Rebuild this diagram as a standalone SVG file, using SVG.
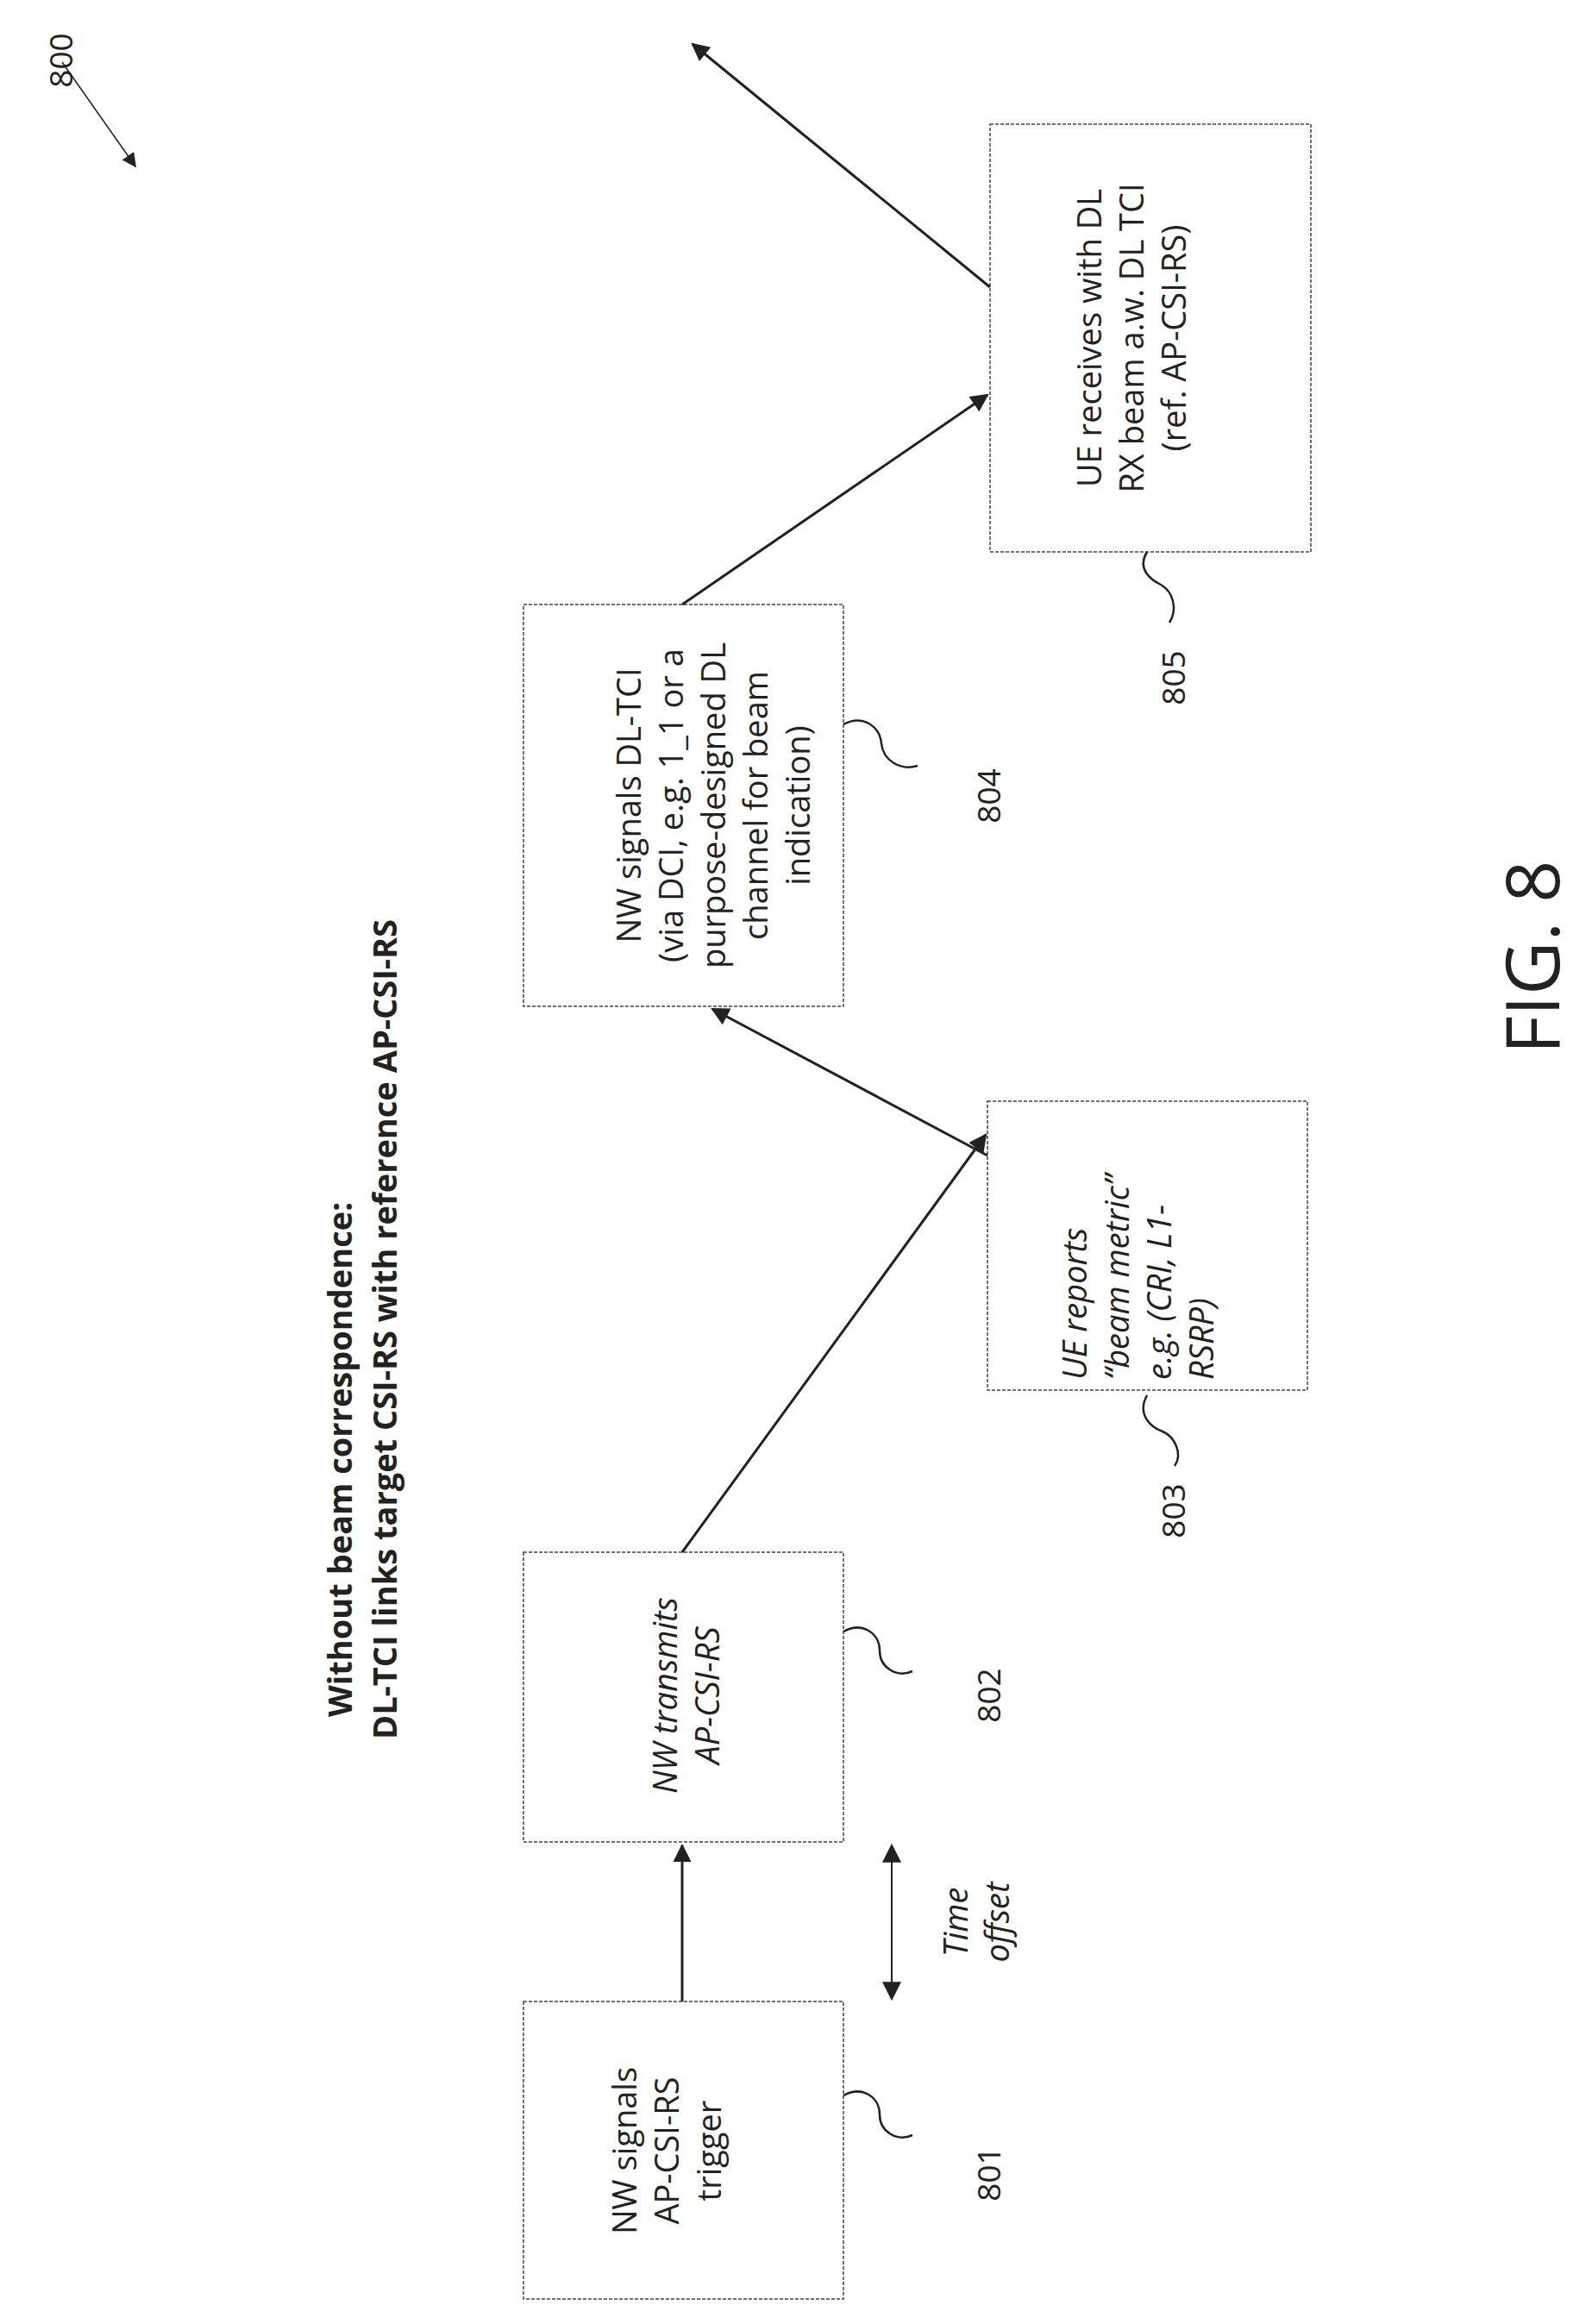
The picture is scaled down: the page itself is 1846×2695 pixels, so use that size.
<svg xmlns="http://www.w3.org/2000/svg" width="1846" height="2695" viewBox="0 0 1846 2695">
<style>
.box{fill:none;stroke:#444;stroke-width:1.5;stroke-dasharray:4,2}
.t{font-family:"Open Sans","Liberation Sans",sans-serif;font-size:38px;fill:#222;text-anchor:middle}
.i{font-style:italic}
.ts{font-family:"Open Sans","Liberation Sans",sans-serif;font-size:38px;fill:#222;font-style:italic}
.h{font-family:"Open Sans","Liberation Sans",sans-serif;font-size:38px;font-weight:bold;fill:#222}
.lbl{font-family:"Open Sans","Liberation Sans",sans-serif;font-size:37px;fill:#222;text-anchor:middle}
.c{fill:none;stroke:#222;stroke-width:3}
.sq{fill:none;stroke:#222;stroke-width:2.5}
</style>
<defs>
<marker id="a" viewBox="0 0 10 10" refX="9" refY="5" markerWidth="9" markerHeight="7" orient="auto-start-reverse" markerUnits="strokeWidth"><path d="M0,0 L10,5 L0,10 z" fill="#222"/></marker>
<marker id="b" viewBox="0 0 10 10" refX="9" refY="5" markerWidth="14" markerHeight="11" orient="auto-start-reverse" markerUnits="strokeWidth"><path d="M0,0 L10,5 L0,10 z" fill="#222"/></marker>
</defs>
<g id="title">
<text class="h" transform="translate(408,1991) rotate(-90)">Without beam correspondence:</text>
<text class="h" transform="translate(460,2017) rotate(-90)">DL-TCI links target CSI-RS with reference AP-CSI-RS</text>
</g>
<g id="n800">
<text class="lbl" transform="translate(84,70) rotate(-90)">800</text>
<line x1="72" y1="72" x2="157" y2="193" stroke="#222" stroke-width="1.5" marker-end="url(#b)"/>
</g>
<g id="n801">
<rect class="box" x="607" y="2321" width="371" height="345"/>
<text class="t" transform="translate(738,2494) rotate(-90)">NW signals</text>
<text class="t" transform="translate(787,2494) rotate(-90)">AP-CSI-RS</text>
<text class="t" transform="translate(836,2494) rotate(-90)">trigger</text>
</g>
<g id="n802">
<rect class="box" x="607" y="1800" width="371" height="336"/>
<text class="t i" transform="translate(785,1966) rotate(-90)">NW transmits</text>
<text class="t i" transform="translate(834,1966) rotate(-90)">AP-CSI-RS</text>
</g>
<g id="n803">
<rect class="box" x="1145" y="1277" width="371" height="335"/>
<text class="ts" transform="translate(1260,1600) rotate(-90)">UE reports</text>
<text class="ts" transform="translate(1309,1600) rotate(-90)">“beam metric”</text>
<text class="ts" transform="translate(1358,1600) rotate(-90)">e.g. (CRI, L1-</text>
<text class="ts" transform="translate(1407,1600) rotate(-90)">RSRP)</text>
</g>
<g id="n804">
<rect class="box" x="607" y="701" width="371" height="466"/>
<text class="t" transform="translate(743,934) rotate(-90)">NW signals DL-TCI</text>
<text class="t" transform="translate(792,934) rotate(-90)">(via DCI, e.g. 1_1 or a</text>
<text class="t" transform="translate(841,934) rotate(-90)">purpose-designed DL</text>
<text class="t" transform="translate(890,934) rotate(-90)">channel for beam</text>
<text class="t" transform="translate(939,934) rotate(-90)">indication)</text>
</g>
<g id="n805">
<rect class="box" x="1148" y="144" width="372" height="496"/>
<text class="t" transform="translate(1277,392) rotate(-90)">UE receives with DL</text>
<text class="t" transform="translate(1326,392) rotate(-90)">RX beam a.w. DL TCI</text>
<text class="t" transform="translate(1375,392) rotate(-90)">(ref. AP-CSI-RS)</text>
</g>
<g id="labels">
<path class="sq" d="M978,2430 C1000,2418 1020,2432 1020,2452 C1020,2472 1040,2484 1058,2476"/>
<text class="lbl" transform="translate(1160,2521) rotate(-90)">801</text>
<path class="sq" d="M978,1892 C1000,1880 1020,1894 1020,1914 C1020,1934 1040,1946 1058,1938"/>
<text class="lbl" transform="translate(1160,1966) rotate(-90)">802</text>
<path class="sq" d="M1330,1618 C1318,1640 1334,1655 1348,1660 C1362,1666 1372,1686 1362,1700"/>
<text class="lbl" transform="translate(1374,1752) rotate(-90)">803</text>
<path class="sq" d="M978,840 C1000,828 1020,842 1022,862 C1024,882 1044,894 1064,888"/>
<text class="lbl" transform="translate(1160,923) rotate(-90)">804</text>
<path class="sq" d="M1330,640 C1318,660 1334,672 1346,678 C1360,686 1366,706 1356,722"/>
<text class="lbl" transform="translate(1374,786) rotate(-90)">805</text>
<text class="t i" transform="translate(1122,2229) rotate(-90)">Time</text>
<text class="t i" transform="translate(1170,2229) rotate(-90)">offset</text>
<text class="lbl" style="font-size:86px" transform="translate(1808,1110) rotate(-90)">FIG. 8</text>
</g>
<g id="connectors">
<line class="c" x1="791" y1="2321" x2="791" y2="2140" marker-end="url(#a)"/>
<line x1="1034" y1="2140" x2="1034" y2="2318" stroke="#222" stroke-width="2" marker-start="url(#b)" marker-end="url(#b)"/>
<line class="c" x1="791" y1="1800" x2="1143" y2="1316" marker-end="url(#a)"/>
<line class="c" x1="1145" y1="1340" x2="826" y2="1170" marker-end="url(#a)"/>
<line class="c" x1="791" y1="701" x2="1145" y2="458" marker-end="url(#a)"/>
<line class="c" x1="1148" y1="333" x2="803" y2="51" marker-end="url(#a)"/>
</g>
</svg>
